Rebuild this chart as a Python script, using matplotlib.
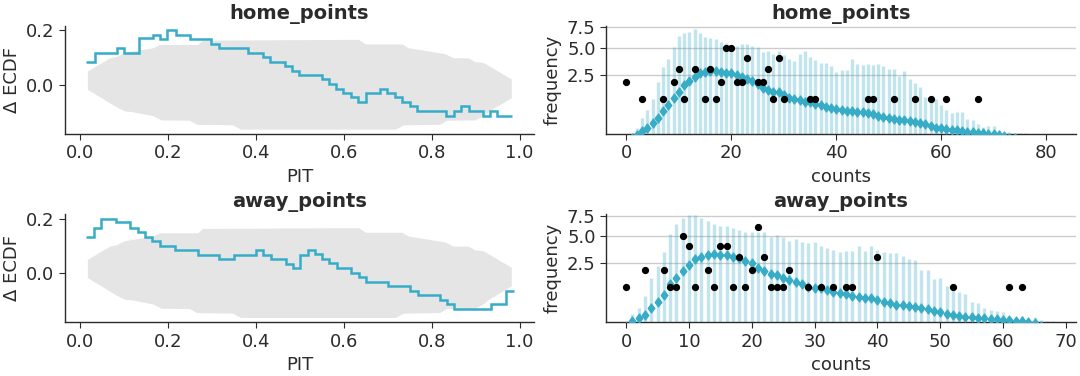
import numpy as np
import matplotlib
matplotlib.use("Agg")
import matplotlib.pyplot as plt

# --- DATA ---
# PIT-ECDF difference, step curves (edges and values between edges)
home_pit_edges = [0.0136, 0.0325, 0.0831, 0.0997, 0.1329, 0.1647, 0.1813, 0.1979, 0.2168,
                  0.2492, 0.2983, 0.3157, 0.3814, 0.4154, 0.4320, 0.4660, 0.4819, 0.4985,
                  0.5498, 0.5665, 0.5816, 0.5989, 0.6163, 0.6329, 0.6495, 0.6813, 0.6986,
                  0.7153, 0.7311, 0.7492, 0.7659, 0.8331, 0.8497, 0.8663, 0.8837, 0.9154,
                  0.9328, 0.9494, 0.9834]
home_delta = [0.084, 0.116, 0.135, 0.117, 0.171, 0.183, 0.168, 0.202, 0.183, 0.168,
              0.148, 0.135, 0.116, 0.101, 0.084, 0.068, 0.051, 0.036, 0.019, 0.002,
              -0.015, -0.030, -0.047, -0.064, -0.030, -0.015, -0.030, -0.047, -0.064,
              -0.080, -0.097, -0.116, -0.097, -0.080, -0.097, -0.116, -0.097, -0.116]

away_pit_edges = [0.0125, 0.031, 0.048, 0.081, 0.113, 0.132, 0.147, 0.164, 0.182, 0.216,
                  0.267, 0.316, 0.349, 0.399, 0.416, 0.433, 0.467, 0.485, 0.500, 0.518,
                  0.533, 0.551, 0.567, 0.584, 0.617, 0.634, 0.651, 0.700, 0.751, 0.768,
                  0.818, 0.835, 0.850, 0.935, 0.968, 0.986]
away_delta = [0.132, 0.165, 0.199, 0.186, 0.165, 0.152, 0.132, 0.119, 0.099, 0.085,
              0.067, 0.051, 0.067, 0.085, 0.067, 0.051, 0.032, 0.017, 0.067, 0.085,
              0.069, 0.051, 0.035, 0.017, 0.0, -0.016, -0.032, -0.048, -0.067, -0.081,
              -0.100, -0.116, -0.133, -0.116, -0.067]

# simultaneous envelope (same for both variables, n = 60)
band_upper_x = [0.017, 0.068, 0.083, 0.102, 0.166, 0.181, 0.268, 0.279, 0.634, 0.650,
                0.733, 0.748, 0.816, 0.831, 0.850, 0.884, 0.899, 0.918, 0.982]
band_upper = [0.048, 0.097, 0.102, 0.117, 0.134, 0.146, 0.146, 0.162, 0.165, 0.148,
              0.148, 0.134, 0.116, 0.112, 0.097, 0.097, 0.083, 0.080, 0.019]
band_lower_x = [0.017, 0.082, 0.102, 0.117, 0.166, 0.185, 0.249, 0.266, 0.347, 0.366,
                0.719, 0.736, 0.819, 0.835, 0.899, 0.918, 0.931, 0.982]
band_lower = [-0.019, -0.083, -0.099, -0.101, -0.116, -0.132, -0.133, -0.148, -0.150,
              -0.166, -0.166, -0.150, -0.148, -0.133, -0.132, -0.116, -0.099, -0.050]

# rootogram: predictive upper band and mean per count, observed frequencies
home_upper = [0, 0.03, 0.09, 0.28, 0.53, 0.99, 2.01, 3.18, 3.87, 5.10,
              6.38, 6.80, 6.92, 7.27, 6.71, 6.26, 6.18, 6.06, 5.70, 5.55,
              5.32, 5.25, 5.40, 5.40, 5.18, 5.15, 4.60, 4.67, 4.40, 4.67,
              4.26, 3.87, 3.68, 4.40, 4.67, 4.07, 3.78, 3.50, 3.50, 3.23,
              2.76, 2.89, 2.89, 3.87, 3.41, 3.32, 3.41, 3.32, 3.41, 3.23,
              2.98, 2.95, 2.42, 2.81, 2.20, 1.90, 1.68, 1.09, 1.13, 0.99,
              0.72, 0.54, 0.42, 0.47, 0.47, 0.26, 0.24, 0.15, 0.10, 0.12,
              0.12, 0.06, 0.03, 0.035, 0.03, 0.03, 0.026, 0, 0.024, 0, 0, 0.025]
home_mean = [0.0, 0.003, 0.015, 0.05, 0.09, 0.165, 0.30, 0.50, 0.72, 1.03,
             1.38, 1.79, 2.06, 2.37, 2.68, 2.76, 2.81, 2.81, 2.76, 2.68,
             2.62, 2.49, 2.37, 2.20, 2.06, 1.83, 1.62, 1.48, 1.38, 1.34,
             1.20, 1.06, 0.99, 0.93, 0.87, 0.84, 0.78, 0.72, 0.66, 0.62,
             0.57, 0.52, 0.50, 0.50, 0.47, 0.45, 0.42, 0.39, 0.35, 0.32,
             0.30, 0.27, 0.25, 0.23, 0.21, 0.185, 0.165, 0.146, 0.117, 0.09,
             0.081, 0.068, 0.06, 0.06, 0.05, 0.042, 0.035, 0.03, 0.027, 0.024,
             0.02, 0.015, 0.01, 0.004, 0.002, 0, 0, 0, 0, 0, 0, 0]
home_obs_counts = [0, 3, 7, 9, 10, 11, 13, 15, 16, 17, 18, 19, 20, 21, 22, 23, 25, 26,
                   27, 28, 29, 30, 35, 36, 46, 47, 51, 55, 58, 61, 67]
home_obs_freq = [2, 1, 1, 2, 3, 1, 3, 1, 3, 1, 2, 5, 5, 2, 2, 4, 2, 2,
                 3, 1, 4, 1, 1, 1, 1, 1, 1, 1, 1, 1, 1]

away_upper = [0, 0.12, 0.25, 0.63, 1.52, 2.32, 3.41, 5.22, 6.38, 7.23,
              7.58, 7.58, 7.14, 6.80, 6.47, 6.22, 6.22, 5.98, 5.67, 5.52,
              5.52, 5.52, 5.44, 4.96, 5.14, 4.96, 4.54, 4.68, 4.44, 4.33,
              4.37, 4.04, 3.84, 3.66, 3.47, 3.53, 3.56, 4.04, 3.56, 4.00,
              3.60, 3.40, 3.35, 3.32, 3.12, 2.81, 2.73, 1.99, 1.99, 1.42,
              1.48, 1.08, 0.87, 0.77, 0.69, 0.42, 0.37, 0.24, 0.19, 0.18,
              0.166, 0.082, 0.06, 0.096, 0.049, 0.073, 0.042, 0.03, 0.03]
away_mean = [0.002, 0.03, 0.068, 0.106, 0.24, 0.42, 0.66, 1.15, 1.52, 1.94,
             2.37, 2.84, 3.03, 3.18, 3.23, 3.18, 3.18, 3.03, 2.89, 2.71,
             2.50, 2.18, 1.94, 1.77, 1.68, 1.52, 1.38, 1.25, 1.15, 1.03,
             0.98, 0.95, 0.87, 0.80, 0.73, 0.69, 0.63, 0.58, 0.53, 0.53,
             0.48, 0.42, 0.39, 0.32, 0.31, 0.29, 0.27, 0.24, 0.215, 0.18,
             0.153, 0.12, 0.106, 0.096, 0.082, 0.073, 0.06, 0.06, 0.052, 0.049,
             0.045, 0.04, 0.035, 0.03, 0.025, 0.015, 0.005, 0.0, 0.0]
away_obs_counts = [0, 3, 6, 7, 8, 9, 10, 11, 13, 14, 15, 16, 17, 18, 19, 20, 21, 22,
                   23, 24, 25, 26, 29, 31, 33, 35, 36, 40, 52, 61, 63]
away_obs_freq = [1, 2, 2, 1, 1, 5, 4, 1, 2, 1, 4, 4, 1, 3, 1, 2, 6, 3,
                 1, 1, 1, 2, 1, 1, 1, 1, 1, 3, 1, 1, 1]

# --- STYLE ---
TEAL = "#36acc6"
INK = "#2b2b2b"
plt.rcParams.update({
    "font.family": ["DejaVu Sans"],
    "font.size": 13,
    "text.color": INK,
    "axes.labelcolor": INK,
    "axes.edgecolor": INK,
    "axes.linewidth": 1.0,
    "xtick.color": INK,
    "ytick.color": INK,
    "xtick.labelsize": 13,
    "ytick.labelsize": 13,
    "xtick.major.size": 4,
    "ytick.major.size": 4,
})

# tall diamond used for the predictive mean
DIAMOND = [(-0.75, 0), (0, 1), (0.75, 0), (0, -1), (-0.75, 0)]

fig = plt.figure(figsize=(10.8, 3.76), dpi=100)

L_X, L_W = 0.0602, 0.434
R_X, R_W = 0.5611, 0.4352
H = 0.288
ROWS = [0.6436, 0.1428]


def style(ax):
    ax.spines["top"].set_visible(False)
    ax.spines["right"].set_visible(False)


def sqrt_fwd(v):
    return np.sqrt(np.clip(v, 0, None))


def sqrt_inv(v):
    return np.square(v)


def ecdf_panel(ax, title, edges, delta):
    poly_x = list(band_upper_x) + list(band_lower_x[::-1])
    poly_y = list(band_upper) + list(band_lower[::-1])
    ax.fill(poly_x, poly_y, color="#e5e5e5", lw=0, zorder=1)
    ax.stairs(delta, edges, baseline=None, color=TEAL, lw=1.8, zorder=2)
    ax.set_xlim(-0.035, 1.032)
    ax.set_ylim(-0.182, 0.217)
    ax.set_xticks([0.0, 0.2, 0.4, 0.6, 0.8, 1.0])
    ax.set_yticks([0.0, 0.2])
    ax.set_xlabel("PIT")
    ax.set_ylabel("Δ ECDF")
    ax.set_title(title, fontsize=14, fontweight="bold", pad=5)
    style(ax)


def root_panel(ax, title, upper, mean, obs_c, obs_f, xlim, xticks):
    counts = np.arange(len(upper))
    ax.set_yscale("function", functions=(sqrt_fwd, sqrt_inv))
    ax.grid(axis="y", color="#cccccc", lw=1.0)
    ax.set_axisbelow(True)
    ax.vlines(counts, 0, upper, color=TEAL, alpha=0.3, lw=2.4, zorder=2)
    ax.plot(counts, mean, ls="none", marker=DIAMOND, ms=6.6, color=TEAL,
            mec=TEAL, mew=0.8, zorder=3)
    ax.plot(obs_c, obs_f, ls="none", marker="o", ms=4.2, color="black", zorder=4)
    ax.set_xlim(*xlim)
    ax.set_ylim(0.022, 7.7)
    ax.set_yticks([2.5, 5.0, 7.5])
    ax.set_yticklabels(["2.5", "5.0", "7.5"])
    ax.yaxis.set_minor_locator(matplotlib.ticker.NullLocator())
    ax.set_xticks(xticks)
    ax.set_xlabel("counts")
    ax.set_ylabel("frequency")
    ax.set_title(title, fontsize=14, fontweight="bold", pad=5)
    style(ax)


ax1 = fig.add_axes([L_X, ROWS[0], L_W, H])
ecdf_panel(ax1, "home_points", home_pit_edges, home_delta)
ax2 = fig.add_axes([R_X, ROWS[0], R_W, H])
root_panel(ax2, "home_points", home_upper, home_mean, home_obs_counts, home_obs_freq,
           (-3.9, 85.7), [0, 20, 40, 60, 80])
ax3 = fig.add_axes([L_X, ROWS[1], L_W, H])
ecdf_panel(ax3, "away_points", away_pit_edges, away_delta)
ax4 = fig.add_axes([R_X, ROWS[1], R_W, H])
root_panel(ax4, "away_points", away_upper, away_mean, away_obs_counts, away_obs_freq,
           (-3.2, 71.6), [0, 10, 20, 30, 40, 50, 60, 70])

fig.savefig("out.png", dpi=100)
